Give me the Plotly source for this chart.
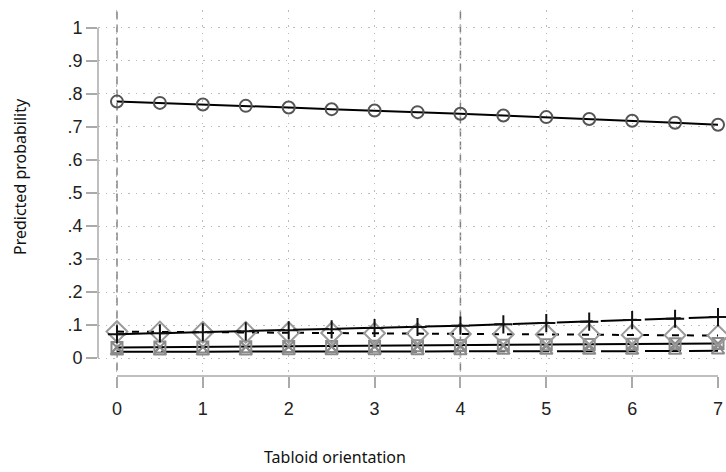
import plotly.graph_objects as go

x_vals = [0, 0.5, 1, 1.5, 2, 2.5, 3, 3.5, 4, 4.5, 5, 5.5, 6, 6.5, 7]

p_circle = [0.777, 0.773, 0.768, 0.764, 0.759, 0.754, 0.750, 0.745, 0.740, 0.735, 0.730, 0.724, 0.719, 0.713, 0.707]
p_plus = [0.072, 0.075, 0.078, 0.081, 0.084, 0.087, 0.091, 0.094, 0.098, 0.102, 0.106, 0.110, 0.115, 0.119, 0.124]
p_diamond = [0.080, 0.079, 0.078, 0.078, 0.077, 0.076, 0.075, 0.074, 0.073, 0.072, 0.071, 0.071, 0.070, 0.069, 0.068]
p_square = [0.032, 0.033, 0.033, 0.034, 0.035, 0.035, 0.036, 0.037, 0.038, 0.039, 0.040, 0.041, 0.042, 0.043, 0.044]
p_triangle = [0.019, 0.019, 0.019, 0.019, 0.020, 0.020, 0.020, 0.020, 0.020, 0.021, 0.021, 0.021, 0.021, 0.021, 0.022]

y_ticks = [0, 0.1, 0.2, 0.3, 0.4, 0.5, 0.6, 0.7, 0.8, 0.9, 1]
y_labels = ["0", ".1", ".2", ".3", ".4", ".5", ".6", ".7", ".8", ".9", "1"]
x_ticks = [0, 1, 2, 3, 4, 5, 6, 7]
x_labels = ["0", "1", "2", "3", "4", "5", "6", "7"]
ref_lines = [0, 4]

series = [
    (p_triangle, "36px,8px", "triangle-up-open", "#8a8a8a", 11),
    (p_square, "solid", "square-x-open", "#8a8a8a", 11),
    (p_diamond, "7px,8px", "diamond-open", "#9a9a9a", 16),
    (p_plus, "36px,8px", "cross-thin-open", "#111111", 13),
    (p_circle, "solid", "circle-open", "#555555", 12),
]

fig = go.Figure()
for ys, dash, sym, mcol, msize in series:
    fig.add_trace(go.Scatter(
        x=x_vals, y=ys, mode="lines+markers", cliponaxis=False,
        line=dict(color="black", width=2, dash=dash),
        marker=dict(symbol=sym, size=msize, color=mcol, line=dict(color=mcol, width=2)),
        showlegend=False,
    ))

for xv in ref_lines:
    fig.add_shape(type="line", xref="x", yref="paper", x0=xv, x1=xv, y0=0.015, y1=1,
                  line=dict(color="#808080", width=1.5, dash="8px,5px"), layer="below")

# Stata-style axis lines limited to data extents
fig.add_shape(type="line", xref="paper", yref="y", x0=0, x1=0, y0=0, y1=1,
              line=dict(color="#aaaaaa", width=1.5))
fig.add_shape(type="line", xref="x", yref="paper", x0=0, x1=7, y0=0, y1=0,
              line=dict(color="#aaaaaa", width=1.5))

title_font = dict(family="Noto Sans, Open Sans, sans-serif", size=16, color="#111")
fig.add_annotation(text="Tabloid orientation", xref="paper", yref="paper",
                   x=0.382, y=-0.221, showarrow=False, font=title_font,
                   xanchor="center", yanchor="middle")
fig.add_annotation(text="Predicted probability", xref="paper", yref="paper",
                   x=-0.126, y=0.546, showarrow=False, font=title_font, textangle=-90,
                   xanchor="center", yanchor="middle")

grid = dict(showgrid=True, gridcolor="#bbbbbb", griddash="1.5px,6px", gridwidth=1.2)

fig.update_layout(
    width=726, height=472,
    margin=dict(l=98, r=8, t=10, b=96, autoexpand=False),
    plot_bgcolor="white", paper_bgcolor="white",
    font=dict(family="Liberation Sans, Arial, sans-serif", size=18, color="#222"),
    xaxis=dict(
        range=[-0.221, 7.0], tickvals=x_ticks, ticktext=x_labels, automargin=False,
        zeroline=False, showline=False, ticklabelstandoff=5,
        ticks="outside", ticklen=11, tickcolor="#aaaaaa", tickwidth=1.5, **grid,
    ),
    yaxis=dict(
        range=[-0.0545, 1.0545], tickvals=y_ticks, ticktext=y_labels, automargin=False,
        zeroline=False, showline=False,
        ticks="outside", ticklen=11, tickcolor="#aaaaaa", tickwidth=1.5, **grid,
    ),
)

fig.write_html("out.html", post_script="document.body.style.margin='0';",
               config={"displayModeBar": False})
